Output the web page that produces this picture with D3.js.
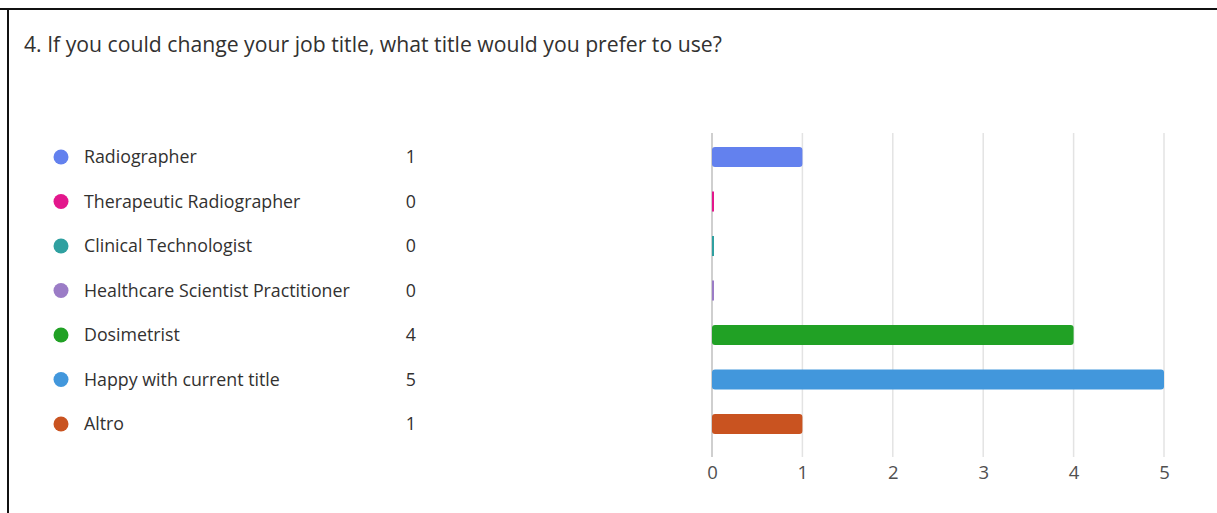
<!DOCTYPE html>
<html>
<head>
<meta charset="utf-8">
<script src="https://cdn.jsdelivr.net/npm/d3@7"></script>
<style>
  html, body { margin: 0; padding: 0; background: #fff; }
  svg { display: block; }
</style>
</head>
<body>
<svg id="chart" width="1217" height="513"></svg>
<script>
// Survey answers
const question = "4. If you could change your job title, what title would you prefer to use?";
const categories = [
  "Radiographer",
  "Therapeutic Radiographer",
  "Clinical Technologist",
  "Healthcare Scientist Practitioner",
  "Dosimetrist",
  "Happy with current title",
  "Altro"
];
const counts = [1, 0, 0, 0, 4, 5, 1];
const colors = ["#6381ee", "#e3178c", "#2fa0a0", "#9b7cc6", "#21a125", "#4297dc", "#c95320"];
const tickValues = [0, 1, 2, 3, 4, 5];

const font = "'Segoe UI', 'Open Sans', 'Noto Sans', sans-serif";
const svg = d3.select("#chart");

// Card frame (left and top edges visible)
svg.append("line").attr("x1", 0).attr("x2", 1217).attr("y1", 9).attr("y2", 9)
  .attr("stroke", "#111").attr("stroke-width", 2);
svg.append("line").attr("x1", 8).attr("x2", 8).attr("y1", 8).attr("y2", 513)
  .attr("stroke", "#111").attr("stroke-width", 2);

svg.append("text")
  .attr("x", 24).attr("y", 52)
  .attr("font-family", font).attr("font-size", 21.2)
  .attr("fill", "#323130")
  .text(question);

// Row positions shared by legend and bars
const y = d3.scaleBand().domain(categories).range([135, 446]).paddingInner(0.55).paddingOuter(0.27);
const x = d3.scaleLinear().domain([0, 5]).range([712, 1164]);

// Legend
const legend = svg.append("g");
const rows = legend.selectAll("g").data(categories).join("g")
  .attr("transform", d => `translate(0, ${y(d) + y.bandwidth() / 2})`);
rows.append("circle").attr("cx", 61).attr("cy", 0).attr("r", 7.5)
  .attr("fill", (d, i) => colors[i]);
rows.append("text").attr("x", 84).attr("dy", "0.35em")
  .attr("font-family", font).attr("font-size", 17.8).attr("fill", "#323130")
  .text(d => d);
rows.append("text").attr("x", 416).attr("dy", "0.35em").attr("text-anchor", "end")
  .attr("font-family", font).attr("font-size", 17.8).attr("fill", "#323130")
  .text((d, i) => counts[i]);

// Grid
const gridTop = 133, gridBottom = 457;
svg.append("g").selectAll("line").data(tickValues).join("line")
  .attr("x1", d => x(d)).attr("x2", d => x(d))
  .attr("y1", gridTop).attr("y2", gridBottom)
  .attr("stroke", d => d === 0 ? "#cfcfcf" : "#e3e3e3")
  .attr("stroke-width", d => d === 0 ? 2 : 1.5);

// Bars
svg.append("g").selectAll("rect").data(categories).join("rect")
  .attr("x", x(0))
  .attr("y", d => y(d))
  .attr("height", y.bandwidth())
  .attr("width", (d, i) => Math.max(2, x(counts[i]) - x(0)))
  .attr("rx", (d, i) => counts[i] > 0 ? 3 : 0)
  .attr("fill", (d, i) => colors[i]);

// Axis
const axis = d3.axisBottom(x).tickValues(tickValues).tickSize(0).tickPadding(0).tickFormat(d3.format("d"));
const ax = svg.append("g").attr("transform", `translate(0, ${gridBottom + 9})`).call(axis);
ax.attr("font-family", font).attr("font-size", 18.5);
ax.select(".domain").remove();
ax.selectAll("text")
  .style("font-family", font).style("font-size", "18.5px").attr("fill", "#505050")
  .attr("dy", "0.71em");
</script>
</body>
</html>
